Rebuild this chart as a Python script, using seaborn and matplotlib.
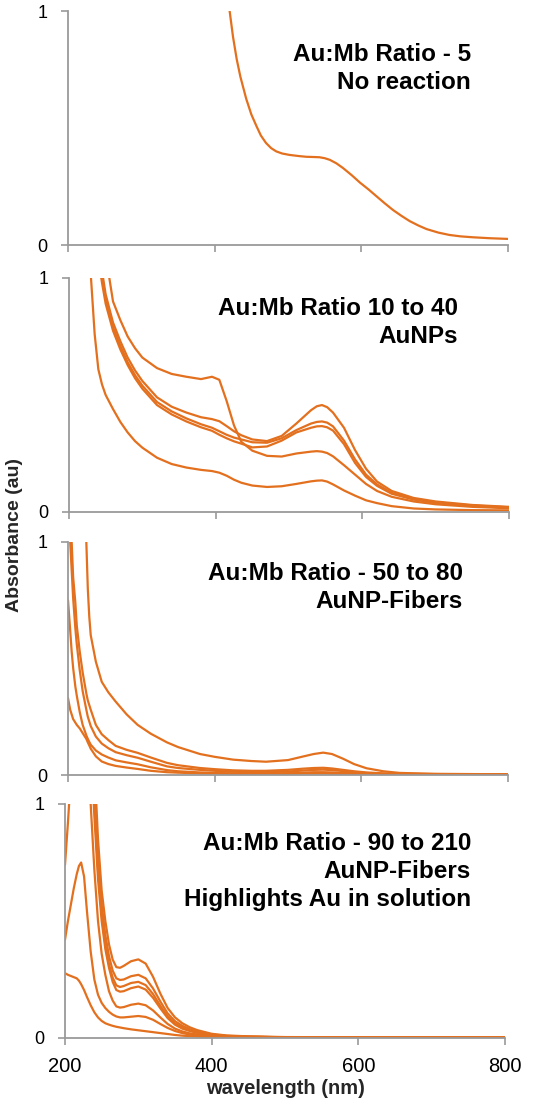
import matplotlib
matplotlib.use("Agg")
import matplotlib.pyplot as plt
import pandas as pd
import seaborn as sns

# ---------------------------------------------------------------------------
# UV-vis spectra of Au:Mb mixtures (absorbance in au, wavelength in nm)
# ---------------------------------------------------------------------------

# Au:Mb ratio 5 -- no reaction
wl_ratio5 = [400, 410, 415, 420, 425, 430, 435, 443, 450, 457, 463, 470, 477, 484, 492,
             502, 515, 525, 535, 543, 550, 557, 566, 575, 587, 598, 610, 620, 632,
             643, 655, 666, 678, 689, 705, 720, 735, 752, 775, 800]
abs_ratio5 = [1.5, 1.22, 1.11, 1.01, 0.89, 0.795, 0.72, 0.625, 0.558, 0.508, 0.468,
              0.436, 0.414, 0.4, 0.391, 0.385, 0.38, 0.377, 0.376, 0.375, 0.371, 0.364,
              0.349, 0.329, 0.298, 0.267, 0.237, 0.21, 0.178, 0.15, 0.124, 0.102,
              0.083, 0.068, 0.053, 0.043, 0.037, 0.033, 0.029, 0.026]

# Au:Mb ratio 10 to 40 -- AuNPs
wl_aunp = [225, 230, 235, 240, 245, 250, 260, 270, 280, 290, 300, 320, 340, 360, 380,
           395, 405, 415, 425, 435, 450, 470, 490, 510, 530, 538, 545, 552, 560, 575,
           590, 605, 620, 640, 670, 700, 750, 800]
abs_aunp_a = [2.2, 1.95, 1.7, 1.5, 1.3, 1.1, 0.9, 0.82, 0.75, 0.70, 0.66, 0.615, 0.59,
              0.578, 0.568, 0.578, 0.565, 0.474, 0.37, 0.30, 0.262, 0.24, 0.237, 0.25,
              0.258, 0.26, 0.258, 0.252, 0.238, 0.20, 0.16, 0.12, 0.09, 0.065, 0.045,
              0.033, 0.022, 0.016]
abs_aunp_b = [1.9, 1.7, 1.4, 1.2, 1.03, 0.93, 0.81, 0.73, 0.66, 0.605, 0.56, 0.49,
              0.45, 0.425, 0.405, 0.397, 0.388, 0.367, 0.345, 0.328, 0.31, 0.303,
              0.325, 0.378, 0.435, 0.452, 0.457, 0.448, 0.425, 0.36, 0.265, 0.185,
              0.13, 0.09, 0.06, 0.045, 0.03, 0.022]
abs_aunp_c = [1.8, 1.6, 1.35, 1.15, 1.0, 0.91, 0.79, 0.71, 0.64, 0.585, 0.54, 0.47,
              0.43, 0.40, 0.375, 0.36, 0.345, 0.33, 0.318, 0.31, 0.298, 0.296, 0.315,
              0.35, 0.378, 0.385, 0.387, 0.382, 0.366, 0.305, 0.225, 0.16, 0.118,
              0.082, 0.056, 0.041, 0.028, 0.02]
abs_aunp_d = [1.7, 1.5, 1.3, 1.08, 0.98, 0.89, 0.775, 0.695, 0.628, 0.572, 0.527,
              0.457, 0.417, 0.387, 0.362, 0.347, 0.33, 0.315, 0.302, 0.292, 0.276,
              0.28, 0.305, 0.34, 0.36, 0.366, 0.367, 0.362, 0.348, 0.29, 0.21, 0.15,
              0.112, 0.078, 0.053, 0.039, 0.026, 0.018]
abs_aunp_e = [1.25, 1.0, 0.76, 0.61, 0.545, 0.50, 0.44, 0.385, 0.34, 0.303, 0.275,
              0.232, 0.205, 0.19, 0.18, 0.175, 0.168, 0.155, 0.138, 0.125, 0.113,
              0.107, 0.11, 0.12, 0.131, 0.134, 0.135, 0.13, 0.118, 0.092, 0.07, 0.05,
              0.038, 0.025, 0.015, 0.011, 0.008, 0.007]

# Au:Mb ratio 50 to 80 -- AuNP-fibers
wl_fiber = [200, 203, 205, 207, 210, 212, 216, 220, 225, 227, 229, 231, 238, 246, 255,
            265, 280, 295, 313, 335, 350, 380, 400, 425, 450, 470, 500, 520, 535, 548,
            560, 575, 590, 607, 630, 652, 700, 750, 800]
abs_fiber_a = [3.0, 2.8, 2.6, 2.4, 2.1, 1.9, 1.6, 1.3, 1.0, 0.80, 0.68, 0.60, 0.486,
               0.40, 0.355, 0.315, 0.26, 0.215, 0.177, 0.14, 0.12, 0.09, 0.078, 0.066,
               0.06, 0.057, 0.064, 0.079, 0.09, 0.096, 0.09, 0.07, 0.047, 0.029,
               0.016, 0.009, 0.005, 0.004, 0.003]
abs_fiber_b = [1.6, 1.25, 1.0, 0.85, 0.74, 0.64, 0.53, 0.44, 0.35, 0.32, 0.30, 0.28,
               0.215, 0.175, 0.15, 0.125, 0.108, 0.095, 0.075, 0.052, 0.042, 0.03,
               0.025, 0.02, 0.018, 0.018, 0.022, 0.027, 0.03, 0.031, 0.028, 0.022,
               0.016, 0.011, 0.007, 0.005, 0.004, 0.003, 0.003]
abs_fiber_c = [1.25, 1.0, 0.88, 0.76, 0.63, 0.56, 0.45, 0.36, 0.28, 0.25, 0.23, 0.21,
               0.165, 0.135, 0.115, 0.098, 0.085, 0.074, 0.057, 0.037, 0.03, 0.022,
               0.018, 0.014, 0.012, 0.012, 0.015, 0.019, 0.022, 0.023, 0.021, 0.017,
               0.012, 0.008, 0.005, 0.004, 0.003, 0.002, 0.002]
abs_fiber_d = [0.75, 0.62, 0.53, 0.46, 0.38, 0.34, 0.27, 0.215, 0.17, 0.155, 0.142,
               0.13, 0.105, 0.088, 0.075, 0.063, 0.054, 0.046, 0.033, 0.021, 0.016,
               0.011, 0.009, 0.007, 0.006, 0.006, 0.008, 0.010, 0.012, 0.012, 0.011,
               0.009, 0.007, 0.005, 0.003, 0.003, 0.002, 0.002, 0.002]
abs_fiber_e = [0.33, 0.28, 0.26, 0.24, 0.225, 0.215, 0.20, 0.18, 0.155, 0.14, 0.127,
               0.113, 0.08, 0.058, 0.047, 0.039, 0.032, 0.026, 0.018, 0.012, 0.010,
               0.007, 0.006, 0.005, 0.004, 0.004, 0.005, 0.006, 0.006, 0.006, 0.005,
               0.004, 0.003, 0.003, 0.002, 0.002, 0.002, 0.002, 0.002]

# Au:Mb ratio 90 to 210 -- AuNP-fibers, free Au in solution
wl_sol = [200, 204, 208, 212, 216, 219, 222, 226, 230, 235, 240, 245, 250, 255, 260,
          265, 270, 275, 280, 290, 300, 310, 320, 330, 340, 350, 360, 370, 380, 400,
          420, 450, 500, 600, 700, 800]
abs_sol_a = [2.2, 2.4, 2.5, 2.5, 2.5, 2.4, 2.3, 2.1, 1.85, 1.55, 1.18, 0.85, 0.63,
             0.50, 0.40, 0.335, 0.303, 0.30, 0.308, 0.328, 0.336, 0.318, 0.262, 0.19,
             0.128, 0.088, 0.063, 0.046, 0.034, 0.018, 0.011, 0.007, 0.004, 0.003,
             0.002, 0.002]
abs_sol_b = [2.1, 2.3, 2.4, 2.4, 2.4, 2.3, 2.2, 2.0, 1.75, 1.45, 1.08, 0.78, 0.57,
             0.44, 0.35, 0.288, 0.255, 0.248, 0.25, 0.264, 0.27, 0.255, 0.212, 0.156,
             0.105, 0.072, 0.052, 0.038, 0.028, 0.015, 0.009, 0.006, 0.003, 0.002,
             0.002, 0.002]
abs_sol_c = [1.9, 2.1, 2.2, 2.3, 2.3, 2.2, 2.1, 1.9, 1.65, 1.35, 1.02, 0.72, 0.53,
             0.40, 0.315, 0.258, 0.225, 0.218, 0.222, 0.235, 0.24, 0.226, 0.188,
             0.138, 0.092, 0.062, 0.045, 0.033, 0.024, 0.013, 0.008, 0.005, 0.003,
             0.002, 0.002, 0.002]
abs_sol_d = [1.6, 1.9, 2.0, 2.1, 2.1, 2.1, 2.0, 1.8, 1.55, 1.25, 0.95, 0.68, 0.50,
             0.38, 0.30, 0.24, 0.205, 0.198, 0.20, 0.213, 0.22, 0.207, 0.172, 0.127,
             0.085, 0.057, 0.04, 0.03, 0.022, 0.012, 0.008, 0.005, 0.003, 0.002,
             0.002, 0.002]
abs_sol_e = [0.74, 0.92, 1.12, 1.3, 1.45, 1.5, 1.5, 1.45, 1.25, 1.0, 0.72, 0.50, 0.36,
             0.27, 0.20, 0.16, 0.135, 0.13, 0.132, 0.142, 0.147, 0.14, 0.118, 0.088,
             0.06, 0.04, 0.028, 0.02, 0.015, 0.008, 0.005, 0.003, 0.002, 0.001,
             0.001, 0.001]
abs_sol_f = [0.42, 0.50, 0.57, 0.64, 0.70, 0.735, 0.75, 0.69, 0.54, 0.37, 0.25, 0.185,
             0.15, 0.128, 0.112, 0.10, 0.092, 0.088, 0.088, 0.091, 0.094, 0.09, 0.078,
             0.06, 0.043, 0.03, 0.021, 0.015, 0.011, 0.006, 0.004, 0.003, 0.002,
             0.001, 0.001, 0.001]
abs_sol_g = [0.277, 0.27, 0.265, 0.26, 0.255, 0.245, 0.23, 0.205, 0.175, 0.14, 0.11,
             0.088, 0.073, 0.063, 0.057, 0.052, 0.048, 0.045, 0.042, 0.037, 0.033,
             0.029, 0.025, 0.021, 0.017, 0.013, 0.010, 0.008, 0.006, 0.004, 0.003,
             0.002, 0.002, 0.001, 0.001, 0.001]

panel_titles = [
    "Au:Mb Ratio - 5\nNo reaction",
    "Au:Mb Ratio 10 to 40\nAuNPs",
    "Au:Mb Ratio - 50 to 80\nAuNP-Fibers",
    "Au:Mb Ratio - 90 to 210\nAuNP-Fibers\nHighlights Au in solution",
]
x_ticks = [200, 400, 600, 800]
y_ticks = [0, 1]

panels = [
    (wl_ratio5, [abs_ratio5]),
    (wl_aunp, [abs_aunp_a, abs_aunp_b, abs_aunp_c, abs_aunp_d, abs_aunp_e]),
    (wl_fiber, [abs_fiber_a, abs_fiber_b, abs_fiber_c, abs_fiber_d, abs_fiber_e]),
    (wl_sol, [abs_sol_a, abs_sol_b, abs_sol_c, abs_sol_d, abs_sol_e, abs_sol_f,
              abs_sol_g]),
]


def long_frame(wl, curves):
    rows = []
    for k, values in enumerate(curves):
        for w, a in zip(wl, values):
            rows.append({"wavelength": w, "absorbance": a, "sample": k})
    return pd.DataFrame(rows)


# ---------------------------------------------------------------------------
sns.set_theme(style="white")
plt.rcParams["font.family"] = ["Liberation Sans", "DejaVu Sans"]

ORANGE = "#E3701E"
GREY = "#9a9a9a"
W, H = 551, 1101

fig = plt.figure(figsize=(W / 100, H / 100), dpi=100)
fig.patch.set_facecolor("white")

# panel frames in pixels: left, top, right, bottom
frames = [(68, 11, 508, 245), (69, 278, 509, 512), (68, 542, 508, 775),
          (65, 804, 505, 1038)]
# title anchors in pixels: right edge, top edge
title_pos = [(471, 43), (458, 297), (463, 562), (471, 832)]

for i, ((wl, curves), frame) in enumerate(zip(panels, frames)):
    l, t, r, b = frame
    ax = fig.add_axes([l / W, 1 - b / H, (r - l) / W, (b - t) / H])
    df = long_frame(wl, curves)
    sns.lineplot(data=df, x="wavelength", y="absorbance", units="sample",
                 estimator=None, color=ORANGE, linewidth=1.6, ax=ax,
                 legend=False)
    ax.set_xlim(200, 800)
    ax.set_ylim(0, 1)
    ax.set_xticks(x_ticks)
    ax.set_yticks(y_ticks)
    ax.set_yticklabels([str(v) for v in y_ticks])
    if i == len(panels) - 1:
        ax.set_xticklabels([str(v) for v in x_ticks])
    else:
        ax.set_xticklabels([])
    ax.set_xlabel("")
    ax.set_ylabel("")
    for side in ("top", "right"):
        ax.spines[side].set_visible(False)
    for side in ("left", "bottom"):
        ax.spines[side].set_color(GREY)
        ax.spines[side].set_linewidth(1.3)
    ax.tick_params(axis="y", direction="out", length=5, width=1.2, color=GREY,
                   labelsize=13, pad=10, labelcolor="black", left=True)
    ax.tick_params(axis="x", direction="out", length=5, width=1.2, color=GREY,
                   labelsize=14.5, pad=9, labelcolor="black", bottom=True)
    ax.set_facecolor("none")

    tx, ty = title_pos[i]
    fig.text(tx / W, 1 - ty / H, panel_titles[i], ha="right", va="top",
             fontsize=17.5, fontweight="bold", linespacing=1.28, color="black")

fig.text(15 / W, 1 - 535 / H, "Absorbance (au)", rotation=90, ha="center",
         va="center", fontsize=14, fontweight="bold")
fig.text(286 / W, 1 - 1088 / H, "wavelength (nm)", ha="center", va="center",
         fontsize=14.5, fontweight="bold")

fig.savefig("out.png", dpi=100, facecolor="white")
